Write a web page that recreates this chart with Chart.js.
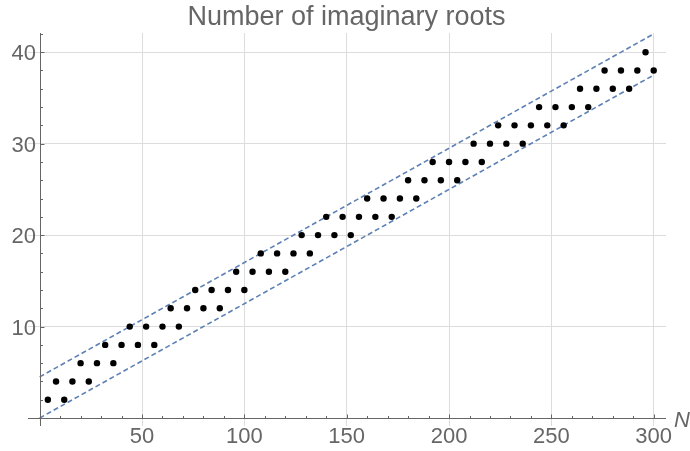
<!DOCTYPE html>
<html>
<head>
<meta charset="utf-8">
<script src="https://cdn.jsdelivr.net/npm/chart.js@4.4.1/dist/chart.umd.min.js"></script>
<style>
  html, body { margin: 0; padding: 0; background: #fff; }
  #wrap { width: 690px; height: 451px; }
</style>
</head>
<body>
<div id="wrap"><canvas id="rootsChart" width="690" height="451"></canvas></div>
<script>
var N_VALUES = [
  4, 8, 12, 16, 20, 24, 28, 32, 36, 40, 44, 48, 52, 56, 60, 64, 68, 72, 76, 80,
  84, 88, 92, 96, 100, 104, 108, 112, 116, 120, 124, 128, 132, 136, 140, 144, 148, 152, 156, 160,
  164, 168, 172, 176, 180, 184, 188, 192, 196, 200, 204, 208, 212, 216, 220, 224, 228, 232, 236, 240,
  244, 248, 252, 256, 260, 264, 268, 272, 276, 280, 284, 288, 292, 296, 300
];
var ROOT_COUNTS = [
  2, 4, 2, 4, 6, 4, 6, 8, 6, 8, 10, 8, 10, 8, 10, 12, 10, 12, 14, 12,
  14, 12, 14, 16, 14, 16, 18, 16, 18, 16, 18, 20, 18, 20, 22, 20, 22, 20, 22, 24,
  22, 24, 22, 24, 26, 24, 26, 28, 26, 28, 26, 28, 30, 28, 30, 32, 30, 32, 30, 32,
  34, 32, 34, 32, 34, 36, 34, 36, 38, 36, 38, 36, 38, 40, 38
];
var BOUND_N = [0, 300];
var LOWER_BOUND = [0, 37.5];
var UPPER_BOUND = [4.5, 42];
var X_TICKS = [50, 100, 150, 200, 250, 300];
var Y_TICKS = [10, 20, 30, 40];

(function () {
  var GRAY = "#666666";
  var BLUE = "#5e81b5";

  function toPoints(xs, ys) {
    return xs.map(function (x, i) {
      return { x: x, y: ys[i] };
    });
  }

  // axes cross at (0,0) like Mathematica, so draw them by hand
  var axesPlugin = {
    id: "axesAtOrigin",
    afterDraw: function (chart) {
      var ctx = chart.ctx;
      var area = chart.chartArea;
      var xs = chart.scales.x;
      var ys = chart.scales.y;
      var x0 = Math.round(xs.getPixelForValue(0)) + 0.5;
      var y0 = Math.round(ys.getPixelForValue(0)) + 0.5;

      ctx.save();
      ctx.strokeStyle = GRAY;
      ctx.lineWidth = 1;
      ctx.beginPath();
      ctx.moveTo(area.left, y0);
      ctx.lineTo(area.right, y0);
      ctx.moveTo(x0, area.top);
      ctx.lineTo(x0, area.bottom);

      var v, p, len;
      for (v = 10; v <= 300; v += 10) {
        p = Math.round(xs.getPixelForValue(v)) + 0.5;
        len = v % 50 === 0 ? 4 : 2.5;
        ctx.moveTo(p, y0);
        ctx.lineTo(p, y0 - len);
      }
      for (v = 2; v <= 42; v += 2) {
        p = Math.round(ys.getPixelForValue(v)) + 0.5;
        len = v % 10 === 0 ? 4 : 2.5;
        ctx.moveTo(x0, p);
        ctx.lineTo(x0 + len, p);
      }
      ctx.stroke();

      ctx.fillStyle = GRAY;
      ctx.font = "22px 'Liberation Sans', Arial, sans-serif";
      ctx.textBaseline = "alphabetic";
      ctx.textAlign = "center";
      X_TICKS.forEach(function (t) {
        ctx.fillText(String(t), xs.getPixelForValue(t), 443);
      });
      ctx.textAlign = "right";
      Y_TICKS.forEach(function (t) {
        ctx.fillText(String(t), 36, ys.getPixelForValue(t) + 8);
      });

      ctx.textAlign = "left";
      ctx.font = "italic 22px 'Liberation Sans', Arial, sans-serif";
      ctx.fillText("N", 674, 427);

      ctx.textAlign = "center";
      ctx.font = "27px 'Liberation Sans', Arial, sans-serif";
      ctx.fillText("Number of imaginary roots", 346.5, 25);
      ctx.restore();
    },
  };

  new Chart(document.getElementById("rootsChart"), {
    type: "scatter",
    data: {
      datasets: [
        {
          data: toPoints(BOUND_N, UPPER_BOUND),
          showLine: true,
          borderColor: BLUE,
          borderWidth: 1.6,
          borderDash: [5, 3],
          pointRadius: 0,
          order: 2,
        },
        {
          data: toPoints(BOUND_N, LOWER_BOUND),
          showLine: true,
          borderColor: BLUE,
          borderWidth: 1.6,
          borderDash: [5, 3],
          pointRadius: 0,
          order: 2,
        },
        {
          data: toPoints(N_VALUES, ROOT_COUNTS),
          backgroundColor: "#000",
          borderColor: "#000",
          borderWidth: 0,
          pointRadius: 3.2,
          order: 1,
        },
      ],
    },
    options: {
      responsive: false,
      animation: false,
      devicePixelRatio: 1,
      layout: { padding: { left: 28, right: 24, top: 33, bottom: 25 } },
      plugins: { legend: { display: false }, tooltip: { enabled: false } },
      scales: {
        x: {
          type: "linear",
          min: -5.7,
          max: 306,
          afterBuildTicks: function (scale) {
            scale.ticks = X_TICKS.map(function (v) {
              return { value: v };
            });
          },
          ticks: { display: false },
          border: { display: false },
          grid: { color: "#dcdcdc", lineWidth: 1, drawTicks: false },
        },
        y: {
          type: "linear",
          min: -0.87,
          max: 42.1,
          afterBuildTicks: function (scale) {
            scale.ticks = Y_TICKS.map(function (v) {
              return { value: v };
            });
          },
          ticks: { display: false },
          border: { display: false },
          grid: { color: "#dcdcdc", lineWidth: 1, drawTicks: false },
        },
      },
    },
    plugins: [axesPlugin],
  });
})();
</script>
</body>
</html>
